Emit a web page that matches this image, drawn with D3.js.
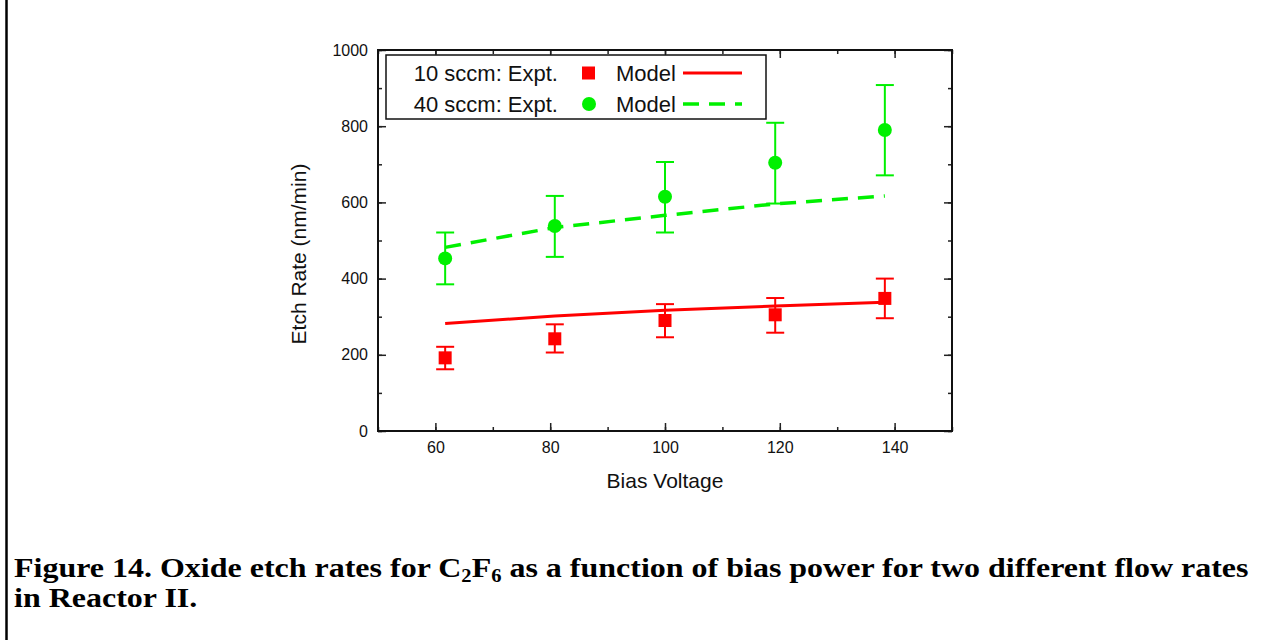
<!DOCTYPE html>
<html><head><meta charset="utf-8">
<script src="https://cdn.jsdelivr.net/npm/d3@7"></script>
<style>body{margin:0;background:#fff;}svg{display:block;}</style>
</head><body>
<svg id="c" width="1267" height="640"></svg>
<script>
// ---- data ----
const biasVoltage = [61.7, 80.8, 100, 119.2, 138.3];
const expt10 = [192, 242, 290, 305, 348];
const expt10Lo = [162, 206, 246, 258, 296];
const expt10Hi = [221, 280, 333, 349, 400];
const model10 = [282, 302, 317, 328, 338];
const expt40 = [453, 538, 615, 704, 790];
const expt40Lo = [385, 457, 521, 597, 671];
const expt40Hi = [521, 617, 706, 809, 908];
const model40 = [482, 534, 566, 596, 617];
const xTickLabels = [60, 80, 100, 120, 140];
const yTickLabels = [0, 200, 400, 600, 800, 1000];
const legendLabels = ["10 sccm: Expt.", "40 sccm: Expt."];
const modelLabel = "Model";
const xTitle = "Bias Voltage";
const yTitle = "Etch Rate (nm/min)";

const RED = "#ff0000", GREEN = "#00f000";
const svg = d3.select("#c");
const L = 378, R = 952, T = 50, B = 431;
const x = d3.scaleLinear().domain([50, 150]).range([L, R]);
const y = d3.scaleLinear().domain([0, 1000]).range([B, T]);

// left page border
svg.append("line").attr("x1", 6.5).attr("x2", 6.5).attr("y1", 0).attr("y2", 640)
  .attr("stroke", "#000").attr("stroke-width", 2.5);

const font = "Liberation Sans, Arial, sans-serif";
const xMinor = d3.range(50, 151, 10);
const yMinor = d3.range(0, 1001, 100);
const axisStyle = g => {
  g.select(".domain").remove();
  g.selectAll(".tick line").attr("stroke", "#222").attr("stroke-width", 1.5);
  g.selectAll("text").attr("font-family", font).attr("font-size", 16).attr("fill", "#111");
};
// major/minor ticks all sides, inward
const xMajor = d3.range(60, 141, 20);
const yMaj = d3.range(0, 1001, 200);
svg.append("g").attr("transform", `translate(0,${B})`)
  .call(d3.axisBottom(x).tickValues(xMinor).tickSize(-4).tickFormat("")).call(axisStyle);
svg.append("g").attr("transform", `translate(0,${B})`)
  .call(d3.axisBottom(x).tickValues(xMajor).tickSize(-8).tickPadding(11).tickFormat((d, i) => xTickLabels[i])).call(axisStyle);
svg.append("g").attr("transform", `translate(0,${T})`)
  .call(d3.axisTop(x).tickValues(xMinor).tickSize(-4).tickFormat("")).call(axisStyle);
svg.append("g").attr("transform", `translate(0,${T})`)
  .call(d3.axisTop(x).tickValues(xMajor).tickSize(-8).tickFormat("")).call(axisStyle);
svg.append("g").attr("transform", `translate(${L},0)`)
  .call(d3.axisLeft(y).tickValues(yMinor).tickSize(-4).tickFormat("")).call(axisStyle);
svg.append("g").attr("transform", `translate(${L},0)`)
  .call(d3.axisLeft(y).tickValues(yMaj).tickSize(-8).tickPadding(10).tickFormat((d, i) => yTickLabels[i])).call(axisStyle);
svg.append("g").attr("transform", `translate(${R},0)`)
  .call(d3.axisRight(y).tickValues(yMinor).tickSize(-4).tickFormat("")).call(axisStyle);
svg.append("g").attr("transform", `translate(${R},0)`)
  .call(d3.axisRight(y).tickValues(yMaj).tickSize(-8).tickFormat("")).call(axisStyle);
svg.append("rect").attr("x", L).attr("y", T).attr("width", R - L).attr("height", B - T)
  .attr("fill", "none").attr("stroke", "#111").attr("stroke-width", 2);

// axis titles
svg.append("text").attr("x", (L + R) / 2).attr("y", 488).attr("text-anchor", "middle")
  .attr("font-family", font).attr("font-size", 21).attr("fill", "#111").text(xTitle);
svg.append("text").attr("transform", `translate(306,254) rotate(-90)`).attr("text-anchor", "middle")
  .attr("font-family", font).attr("font-size", 21).attr("fill", "#111").text(yTitle);

// model lines
const line = d3.line().x(d => x(d[0])).y(d => y(d[1]));
svg.append("path").attr("d", line(d3.zip(biasVoltage, model10)))
  .attr("fill", "none").attr("stroke", RED).attr("stroke-width", 3);
svg.append("path").attr("d", line(d3.zip(biasVoltage, model40)))
  .attr("fill", "none").attr("stroke", GREEN).attr("stroke-width", 3.5).attr("stroke-dasharray", "16,10");

// error bars + markers
function errBars(lo, hi, color) {
  const g = svg.append("g").attr("stroke", color).attr("stroke-width", 2);
  biasVoltage.forEach((v, i) => {
    const cx = x(v);
    g.append("line").attr("x1", cx).attr("x2", cx).attr("y1", y(lo[i])).attr("y2", y(hi[i]));
    g.append("line").attr("x1", cx - 9).attr("x2", cx + 9).attr("y1", y(lo[i])).attr("y2", y(lo[i]));
    g.append("line").attr("x1", cx - 9).attr("x2", cx + 9).attr("y1", y(hi[i])).attr("y2", y(hi[i]));
  });
}
errBars(expt10Lo, expt10Hi, RED);
errBars(expt40Lo, expt40Hi, GREEN);
svg.append("g").selectAll("rect").data(d3.zip(biasVoltage, expt10)).join("rect")
  .attr("x", d => x(d[0]) - 6.5).attr("y", d => y(d[1]) - 6.5).attr("width", 13).attr("height", 13).attr("fill", RED);
svg.append("g").selectAll("circle").data(d3.zip(biasVoltage, expt40)).join("circle")
  .attr("cx", d => x(d[0])).attr("cy", d => y(d[1])).attr("r", 7).attr("fill", GREEN);

// legend
const lg = svg.append("g");
lg.append("rect").attr("x", 386).attr("y", 55).attr("width", 380).attr("height", 64)
  .attr("fill", "#fff").attr("stroke", "#111").attr("stroke-width", 1.5);
const rows = [73, 104];
rows.forEach((ry, i) => {
  lg.append("text").attr("x", 558).attr("y", ry).attr("dy", "0.35em").attr("text-anchor", "end")
    .attr("font-family", font).attr("font-size", 22).attr("fill", "#111").text(legendLabels[i]);
  lg.append("text").attr("x", 616).attr("y", ry).attr("dy", "0.35em")
    .attr("font-family", font).attr("font-size", 22).attr("fill", "#111").text(modelLabel);
});
lg.append("rect").attr("x", 582).attr("y", rows[0] - 6.5).attr("width", 13).attr("height", 13).attr("fill", RED);
lg.append("circle").attr("cx", 589).attr("cy", rows[1]).attr("r", 7).attr("fill", GREEN);
lg.append("line").attr("x1", 683).attr("x2", 742).attr("y1", rows[0]).attr("y2", rows[0])
  .attr("stroke", RED).attr("stroke-width", 3);
lg.append("line").attr("x1", 683).attr("x2", 742).attr("y1", rows[1]).attr("y2", rows[1])
  .attr("stroke", GREEN).attr("stroke-width", 3.5).attr("stroke-dasharray", "16,10");

// caption (horizontally stretched bold serif, as in the reference)
const capFont = "Liberation Serif, Times New Roman, serif";
const capG = svg.append("g").attr("transform", "translate(14,0) scale(1.143,1)");
const cap = capG.append("text").attr("x", 0).attr("y", 577)
  .attr("font-family", capFont).attr("font-weight", "bold")
  .attr("font-size", 28).attr("fill", "#000");
cap.append("tspan").text("Figure 14. Oxide etch rates for C");
cap.append("tspan").attr("font-size", 18).attr("dy", 5).text("2");
cap.append("tspan").attr("dy", -5).text("F");
cap.append("tspan").attr("font-size", 18).attr("dy", 5).text("6");
cap.append("tspan").attr("dy", -5).text(" as a function of bias power for two different flow rates");
capG.append("text").attr("x", 0).attr("y", 607)
  .attr("font-family", capFont).attr("font-weight", "bold")
  .attr("font-size", 28).attr("fill", "#000").text("in Reactor II.");
</script>
</body></html>
